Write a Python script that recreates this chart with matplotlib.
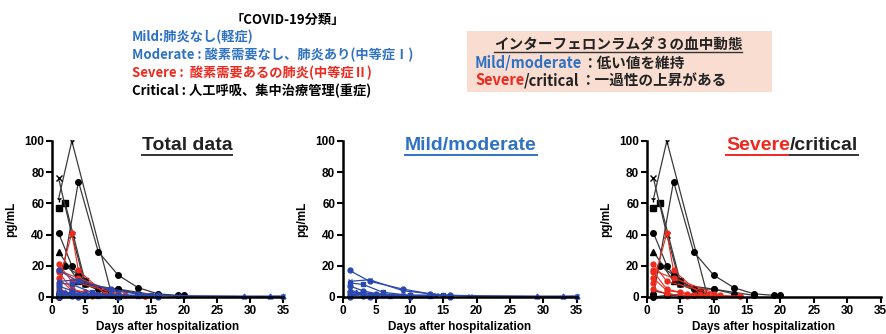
import matplotlib
matplotlib.use("Agg")
import matplotlib.pyplot as plt
from matplotlib.lines import Line2D
from matplotlib.patches import Rectangle

plt.rcParams['font.family'] = ['Noto Sans CJK JP', 'DejaVu Sans']

# --- データ (pg/mL, 入院後日数) ---
# Critical (黒)
crit_days = [
    [1, 3, 9],
    [1, 4, 7, 10, 13, 16, 19, 20],
    [1, 2, 5, 8],
    [1, 3, 5, 9],
    [1, 3, 5, 10, 16],
    [1, 4, 8],
    [2, 4, 7, 10, 13],
    [1, 3, 5, 10],
    [1, 3, 7],
]
crit_vals = [
    [63, 100, 2],
    [1, 74, 29, 14, 6, 2, 1, 1],
    [57, 60, 10, 3],
    [76, 40, 8, 1],
    [41, 20, 8, 5, 1],
    [29, 10, 3],
    [20, 14, 5, 5, 2],
    [4, 2, 1, 0.5],
    [0, 1, 1],
]
crit_markers = ['1', 'o', 's', 'x', 'o', '^', 'o', '^', 'o']

# Severe (赤)
sev_days = [
    [1, 3, 4, 8, 10, 14],
    [1, 3, 10],
    [1, 4, 11],
    [1, 3, 6, 9],
    [1, 3, 5, 7],
    [1, 3, 6, 14],
]
sev_vals = [
    [9, 41, 17, 2, 1, 0.5],
    [21, 10, 2],
    [17, 12, 1],
    [16, 5, 2, 1],
    [12, 4, 3, 1],
    [5, 2, 0.5, 0.3],
]

# Mild / moderate (青)
mild_days = [
    [1, 4, 9, 13, 16],
    [1, 4, 9, 14, 19, 35],
    [1, 3, 6, 10, 15],
    [1, 3, 5, 10, 13],
    [1, 2, 5, 9, 16, 29, 33, 35],
    [1, 3, 6, 10],
    [1, 4, 7, 13],
    [1, 3, 5],
    [1, 4, 10, 16],
]
mild_vals = [
    [17, 10, 5, 2, 1],
    [10, 11, 4, 1.5, 0.5, 0.5],
    [9, 8, 3, 1, 1],
    [7, 4, 2, 1, 1],
    [5, 3, 2, 1, 1, 0.3, 0.3, 0.5],
    [3, 2, 1, 0.5],
    [2, 1, 0.5, 0.5],
    [1, 0.5, 0.5],
    [0, 0, 0, 0],
]
mild_markers = ['o', 'x', 's', 'o', '^', 'o', 's', 'o', 'o']

yticks = [0, 20, 40, 60, 80, 100]
xticks = [0, 5, 10, 15, 20, 25, 30, 35]

BLUE_TXT = '#2f72c4'
RED_TXT = '#f0281e'
BLUE_LINE = '#2a48b0'
RED_LINE = '#ee2a1e'
LAT = ['Liberation Sans', 'DejaVu Sans']

fig = plt.figure(figsize=(8.86, 3.34), dpi=100)


def draw_crit(ax):
    for d, v, m in zip(crit_days, crit_vals, crit_markers):
        ax.plot(d, v, color='#3a3a3a', lw=0.9, marker=m, ms=4,
                mfc='black', mec='black', mew=1, clip_on=False)


def draw_sev(ax):
    for d, v in zip(sev_days, sev_vals):
        ax.plot(d, v, color=RED_LINE, lw=0.8, marker='o', ms=3.5,
                mfc=RED_LINE, mec=RED_LINE, clip_on=False)


def draw_mild(ax):
    for d, v, m in zip(mild_days, mild_vals, mild_markers):
        ax.plot(d, v, color=BLUE_LINE, lw=0.9, marker=m, ms=3.5,
                mfc=BLUE_LINE, mec=BLUE_LINE, clip_on=False)


def style_axes(ax):
    ax.set_xlim(0, 35)
    ax.set_ylim(0, 100)
    ax.set_xticks(xticks)
    ax.set_yticks(yticks)
    for s in ['top', 'right']:
        ax.spines[s].set_visible(False)
    for s in ['left', 'bottom']:
        ax.spines[s].set_linewidth(1.8)
    ax.tick_params(width=1.5, length=4, labelsize=8.5, pad=1.5)
    for lab in ax.get_xticklabels() + ax.get_yticklabels():
        lab.set_fontweight('bold')
        lab.set_family(LAT)
    ax.set_ylabel('pg/mL', fontsize=8.5, fontweight='bold', family=LAT, labelpad=5)
    ax.set_xlabel('Days after hospitalization', fontsize=8.5, fontweight='bold',
                  family=LAT, labelpad=3)


ax1 = fig.add_axes([0.0587, 0.111, 0.261, 0.467])
draw_crit(ax1)
draw_sev(ax1)
draw_mild(ax1)
style_axes(ax1)

ax2 = fig.add_axes([0.387, 0.111, 0.264, 0.467])
draw_mild(ax2)
style_axes(ax2)

ax3 = fig.add_axes([0.730, 0.111, 0.264, 0.467])
draw_crit(ax3)
draw_sev(ax3)
style_axes(ax3)

# --- パネルタイトル ---
tfont = dict(fontsize=14, fontweight='bold', family=LAT)
t1 = fig.text(187 / 886, 1 - 146 / 334, 'Total data', ha='center', va='center', color='#222222', **tfont)
t2 = fig.text(471 / 886, 1 - 146 / 334, 'Mild/moderate', ha='center', va='center', color=BLUE_TXT, **tfont)
t3a = fig.text(790 / 886, 1 - 146 / 334, 'Severe', ha='right', va='center', color=RED_TXT, **tfont)
t3b = fig.text(790 / 886, 1 - 146 / 334, '/critical', ha='left', va='center', color='#222222', **tfont)

# --- 分類テキスト ---
fig.text(288 / 886, 1 - 20 / 334, '「COVID-19分類」', ha='center', va='center',
         fontsize=9.5, fontweight='bold', color='black')
cls_lines = [
    ('Mild:肺炎なし(軽症)', BLUE_TXT),
    ('Moderate : 酸素需要なし、肺炎あり(中等症Ⅰ)', BLUE_TXT),
    ('Severe :  酸素需要あるの肺炎(中等症Ⅱ)', RED_TXT),
    ('Critical : 人工呼吸、集中治療管理(重症)', 'black'),
]
for i, (s, c) in enumerate(cls_lines):
    fig.text(132 / 886, 1 - (37 + 18 * i) / 334, s, ha='left', va='center',
             fontsize=9.5, fontweight='bold', color=c)

# --- 右上の枠 ---
fig.add_artist(Rectangle((467 / 886, 1 - 92 / 334), (772 - 467) / 886, 61 / 334,
                         transform=fig.transFigure, facecolor='#f9ddd0', edgecolor='none', zorder=0))
tb = fig.text(618 / 886, 1 - 45 / 334, 'インターフェロンラムダ３の血中動態', ha='center', va='center',
              fontsize=10.5, fontweight='bold', color='#222222')
b1a = fig.text(475 / 886, 1 - 63 / 334, 'Mild/moderate', ha='left', va='center',
               fontsize=10.5, fontweight='bold', color=BLUE_TXT)
b2a = fig.text(475 / 886, 1 - 80 / 334, 'Severe', ha='left', va='center',
               fontsize=10.5, fontweight='bold', color=RED_TXT)

fig.canvas.draw()
r = fig.canvas.get_renderer()
W, H = fig.bbox.width, fig.bbox.height


def after(t):
    bb = t.get_window_extent(r)
    return bb.x1 / W


def underline(t, color, off=2.0, lw=1.4):
    bb = t.get_window_extent(r)
    y = (bb.y0 + 1.5 - off) / H
    fig.add_artist(Line2D([bb.x0 / W, bb.x1 / W], [y, y], transform=fig.transFigure,
                          color=color, lw=lw))


fig.text(after(b1a), 1 - 63 / 334, '：低い値を維持', ha='left', va='center',
         fontsize=10.5, fontweight='bold', color='#222222')
b2b = fig.text(after(b2a), 1 - 80 / 334, '/critical', ha='left', va='center',
               fontsize=10.5, fontweight='bold', color='#222222')
fig.canvas.draw()
fig.text(after(b2b), 1 - 80 / 334, '：一過性の上昇がある', ha='left', va='center',
         fontsize=10.5, fontweight='bold', color='#222222')

underline(t1, '#333333')
underline(t2, BLUE_TXT)
underline(t3a, RED_TXT)
underline(t3b, '#333333')
underline(tb, '#333333', off=0.5, lw=1.0)

fig.savefig('out.png', dpi=100)
